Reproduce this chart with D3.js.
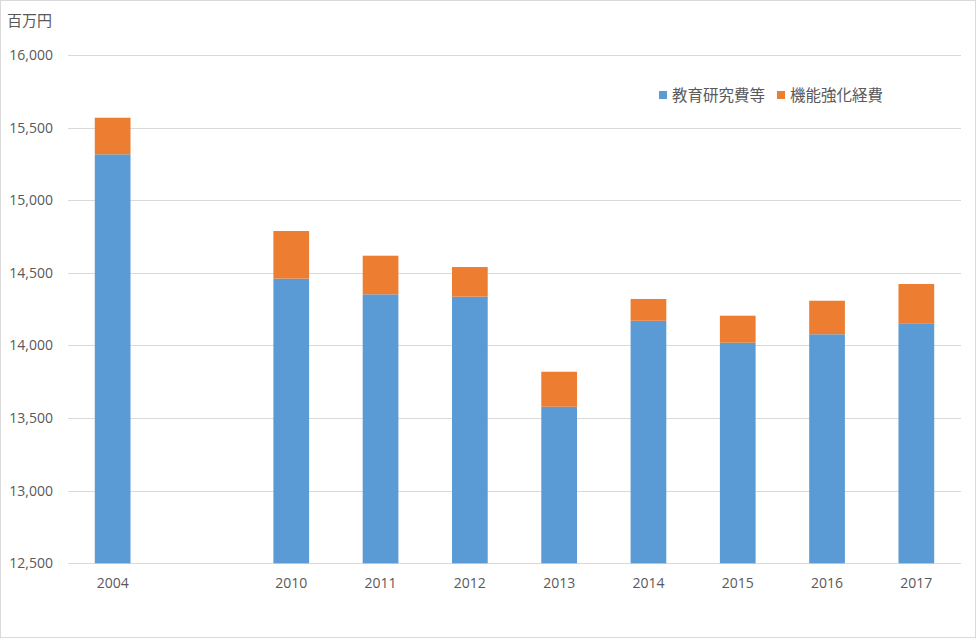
<!DOCTYPE html>
<html><head><meta charset="utf-8">
<script src="https://cdn.jsdelivr.net/npm/d3@7"></script>
<style>
html,body{margin:0;padding:0;background:#fff;}
svg{display:block;font-family:"Noto Sans CJK JP","Open Sans",sans-serif;}
</style></head>
<body>
<script>
const categories = ["2004", "", "2010", "2011", "2012", "2013", "2014", "2015", "2016", "2017"];
const seriesNames = ["教育研究費等", "機能強化経費"];
const education = [15316, null, 14460, 14352, 14336, 13578, 14170, 14019, 14077, 14153];
const enhancement = [252, null, 328, 266, 204, 241, 150, 186, 231, 270];
const yTicks = [12500, 13000, 13500, 14000, 14500, 15000, 15500, 16000];
const colors = ["#5b9bd5", "#ed7d31"];

const W = 976, H = 638;
const svg = d3.select("body").append("svg").attr("width", W).attr("height", H);
svg.append("rect").attr("x", 0.5).attr("y", 0.5).attr("width", W - 1).attr("height", H - 1)
  .attr("fill", "#fff").attr("stroke", "#d9d9d9");

const plotL = 68, plotR = 961, plotT = 55, plotB = 563.3;
const x = d3.scaleBand().domain(categories.map((c, i) => i)).range([plotL, plotR]).paddingInner(0.6).paddingOuter(0.3);
const y = d3.scaleLinear().domain([12500, 16000]).range([plotB, plotT]);

// gridlines
svg.append("g").selectAll("line").data(yTicks).join("line")
  .attr("x1", plotL).attr("x2", plotR)
  .attr("y1", d => Math.round(y(d)) + 0.5).attr("y2", d => Math.round(y(d)) + 0.5)
  .attr("stroke", "#d9d9d9").attr("stroke-width", 1);

// y axis labels
const yAxis = d3.axisLeft(y).tickValues(yTicks).tickSize(0).tickPadding(0).tickFormat(d3.format(","));
const ya = svg.append("g").attr("transform", `translate(53,0)`).call(yAxis);
ya.select(".domain").remove();
ya.selectAll("text").attr("fill", "#595959").style("font-size", "14px").style("font-family", "'Open Sans',sans-serif");

// x axis labels
const xAxis = d3.axisBottom(x).tickSize(0).tickPadding(0).tickFormat(i => categories[i]);
const xa = svg.append("g").attr("transform", `translate(0,${plotB + 15})`).call(xAxis);
xa.select(".domain").remove();
xa.selectAll("text").attr("fill", "#595959").style("font-size", "14px").style("font-family", "'Open Sans',sans-serif");

// stacked bars
const data = categories.map((c, i) => ({i, a: education[i], b: enhancement[i]})).filter(d => d.a != null);
const g = svg.append("g");
g.selectAll("rect.a").data(data).join("rect").attr("class", "a")
  .attr("x", d => x(d.i)).attr("width", x.bandwidth())
  .attr("y", d => y(d.a)).attr("height", d => y(12500) - y(d.a))
  .attr("fill", colors[0]);
g.selectAll("rect.b").data(data).join("rect").attr("class", "b")
  .attr("x", d => x(d.i)).attr("width", x.bandwidth())
  .attr("y", d => y(d.a + d.b)).attr("height", d => y(d.a) - y(d.a + d.b))
  .attr("fill", colors[1]);

// unit label
svg.append("text").attr("x", 7).attr("y", 26).text("百万円")
  .attr("fill", "#595959").style("font-size", "15px");

// legend
const lg = svg.append("g").attr("transform", "translate(659,95)");
const lx = [0, 118];
seriesNames.forEach((n, k) => {
  lg.append("rect").attr("x", lx[k]).attr("y", -4).attr("width", 8).attr("height", 8).attr("fill", colors[k]);
  lg.append("text").attr("x", lx[k] + 13).attr("y", 6).text(n)
    .attr("fill", "#595959").style("font-size", "15.5px");
});
</script>
</body></html>
